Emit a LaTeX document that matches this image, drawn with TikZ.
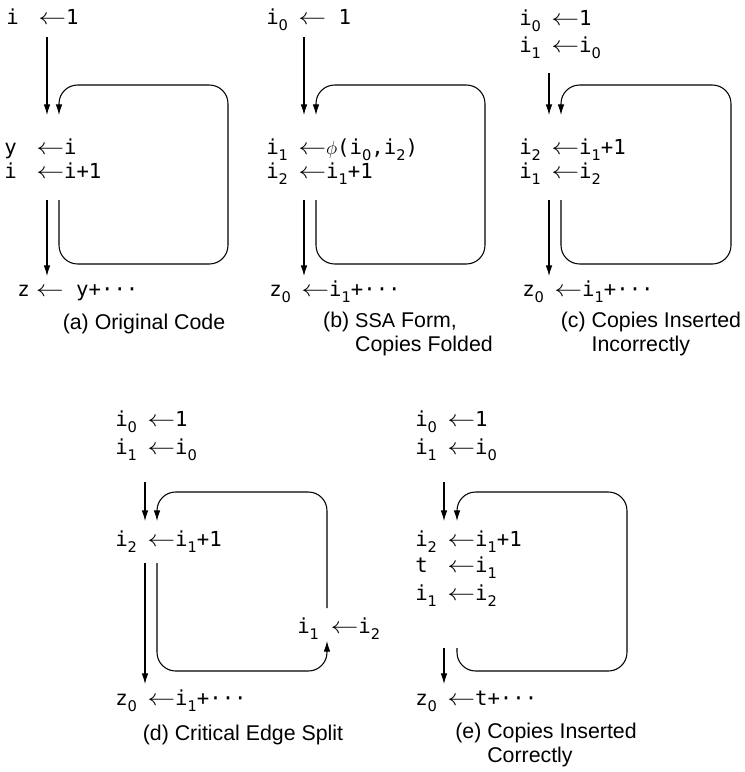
\documentclass[tikz,border=0pt]{standalone}
\usepackage{fontspec}
\usepackage{graphicx}
\setmainfont{Liberation Sans}
\newfontfamily\codefont{DejaVu Sans Mono}
\newfontfamily\subfont{DejaVu Sans}
\usetikzlibrary{arrows.meta}

\newcommand{\lo}[1]{\raisebox{-.32em}{\subfont\fontsize{11}{11}\selectfont #1}}
\newcommand{\la}{\scalebox{1.45}[1.2]{$\leftarrow$}}
\newcommand{\asg}[3][24pt]{\makebox[#1][l]{#2}\la#3}
\newcommand{\ssa}{{\fontsize{15}{16}\selectfont SSA}}

\begin{document}
\begin{tikzpicture}[x=0.75pt,y=-0.75pt,
  code/.style={anchor=base west,inner sep=0pt,font=\codefont\fontsize{15.5}{18}\selectfont},
  captext/.style={inner sep=0pt,font=\fontsize{16}{18}\selectfont},
  flow/.style={-{Latex[length=8pt,width=5pt]},line width=.8pt},
  loop/.style={flow,rounded corners=14pt}]
\useasboundingbox (0,0) rectangle (745,772);

% (a) original code
\node[code] (a1) at (6,24) {\asg{i}{1}};
\node[code] (a2) at (4,154) {\asg{y}{i}};
\node[code] (a3) at (4,178) {\asg{i}{i+1}};
\node[code] (a4) at (17,296) {\asg[14pt]{z}{\ y+···}};
\coordinate (aTop) at (47,37);
\coordinate (aHead) at (47,115);
\coordinate (aBack) at (59,115);
\coordinate (aOut) at (59,200);
\coordinate (aDown) at (47,200);
\coordinate (aEnd) at (47,276);
\draw[flow] (aTop) -- (aHead);
\draw[loop] (aOut) -- (59,264) -- (228,264) -- (228,85) -- (59,85) -- (aBack);
\draw[flow] (aDown) -- (aEnd);
\node[captext] (aCap) at (144,324) {(a) Original Code};

% (b) ssa form
\node[code] (b1) at (266,24) {\asg{i\lo{0}}{\ 1}};
\node[code] (b2) at (266,154) {\asg{i\lo{1}}{$\phi$(i\lo{0},i\lo{2})}};
\node[code] (b3) at (266,178) {\asg{i\lo{2}}{i\lo{1}+1}};
\node[code] (b4) at (269,296) {\asg{z\lo{0}}{i\lo{1}+···}};
\coordinate (bTop) at (304,37);
\coordinate (bHead) at (304,115);
\coordinate (bBack) at (316,115);
\coordinate (bOut) at (316,200);
\coordinate (bDown) at (304,200);
\coordinate (bEnd) at (304,276);
\draw[flow] (bTop) -- (bHead);
\draw[loop] (bOut) -- (316,264) -- (485,264) -- (485,85) -- (316,85) -- (bBack);
\draw[flow] (bDown) -- (bEnd);
\node[captext] (bCap) at (408,335) {\begin{tabular}{@{}l@{ }l@{}}(b)&\ssa{} Form,\\&Copies Folded\end{tabular}};

% (c) copies inserted incorrectly
\node[code] (c1) at (519,25) {\asg{i\lo{0}}{1}};
\node[code] (c2) at (519,52) {\asg{i\lo{1}}{i\lo{0}}};
\node[code] (c3) at (519,154) {\asg{i\lo{2}}{i\lo{1}+1}};
\node[code] (c4) at (519,178) {\asg{i\lo{1}}{i\lo{2}}};
\node[code] (c5) at (522,296) {\asg{z\lo{0}}{i\lo{1}+···}};
\coordinate (cTop) at (549,73);
\coordinate (cHead) at (549,115);
\coordinate (cBack) at (561,115);
\coordinate (cOut) at (561,200);
\coordinate (cDown) at (549,200);
\coordinate (cEnd) at (549,276);
\draw[flow] (cTop) -- (cHead);
\draw[loop] (cOut) -- (561,264) -- (731,264) -- (731,85) -- (561,85) -- (cBack);
\draw[flow] (cDown) -- (cEnd);
\node[captext] (cCap) at (651,335) {\begin{tabular}{@{}l@{ }l@{}}(c)&Copies Inserted\\&Incorrectly\end{tabular}};

% (d) critical edge split
\node[code] (d1) at (115,426) {\asg{i\lo{0}}{1}};
\node[code] (d2) at (115,454) {\asg{i\lo{1}}{i\lo{0}}};
\node[code] (d3) at (115,546) {\asg{i\lo{2}}{i\lo{1}+1}};
\node[code] (d4) at (297,633) {\asg[25pt]{i\lo{1}}{i\lo{2}}};
\node[code] (d5) at (115,705) {\asg{z\lo{0}}{i\lo{1}+···}};
\coordinate (dTop) at (145,482);
\coordinate (dHead) at (145,521);
\coordinate (dBack) at (157,521);
\coordinate (dOut) at (157,563);
\coordinate (dDown) at (145,563);
\coordinate (dEnd) at (145,684);
\coordinate (dSplitIn) at (327,641);
\coordinate (dSplitOut) at (327,608);
\draw[flow] (dTop) -- (dHead);
\draw[loop] (dOut) -- (157,671) -- (327,671) -- (dSplitIn);
\draw[loop] (dSplitOut) -- (327,492) -- (157,492) -- (dBack);
\draw[flow] (dDown) -- (dEnd);
\node[captext] (dCap) at (243,735) {(d) Critical Edge Split};

% (e) copies inserted correctly
\node[code] (e1) at (415,426) {\asg{i\lo{0}}{1}};
\node[code] (e2) at (415,454) {\asg{i\lo{1}}{i\lo{0}}};
\node[code] (e3) at (415,546) {\asg{i\lo{2}}{i\lo{1}+1}};
\node[code] (e4) at (415,572) {\asg{t}{i\lo{1}}};
\node[code] (e5) at (415,600) {\asg{i\lo{1}}{i\lo{2}}};
\node[code] (e6) at (415,705) {\asg{z\lo{0}}{t+···}};
\coordinate (eTop) at (444,482);
\coordinate (eHead) at (444,521);
\coordinate (eBack) at (457,521);
\coordinate (eOut) at (457,648);
\coordinate (eDown) at (444,648);
\coordinate (eEnd) at (444,684);
\draw[flow] (eTop) -- (eHead);
\draw[loop] (eOut) -- (457,671) -- (627,671) -- (627,492) -- (457,492) -- (eBack);
\draw[flow] (eDown) -- (eEnd);
\node[captext] (eCap) at (546,746) {\begin{tabular}{@{}l@{ }l@{}}(e)&Copies Inserted\\&Correctly\end{tabular}};
\end{tikzpicture}
\end{document}
